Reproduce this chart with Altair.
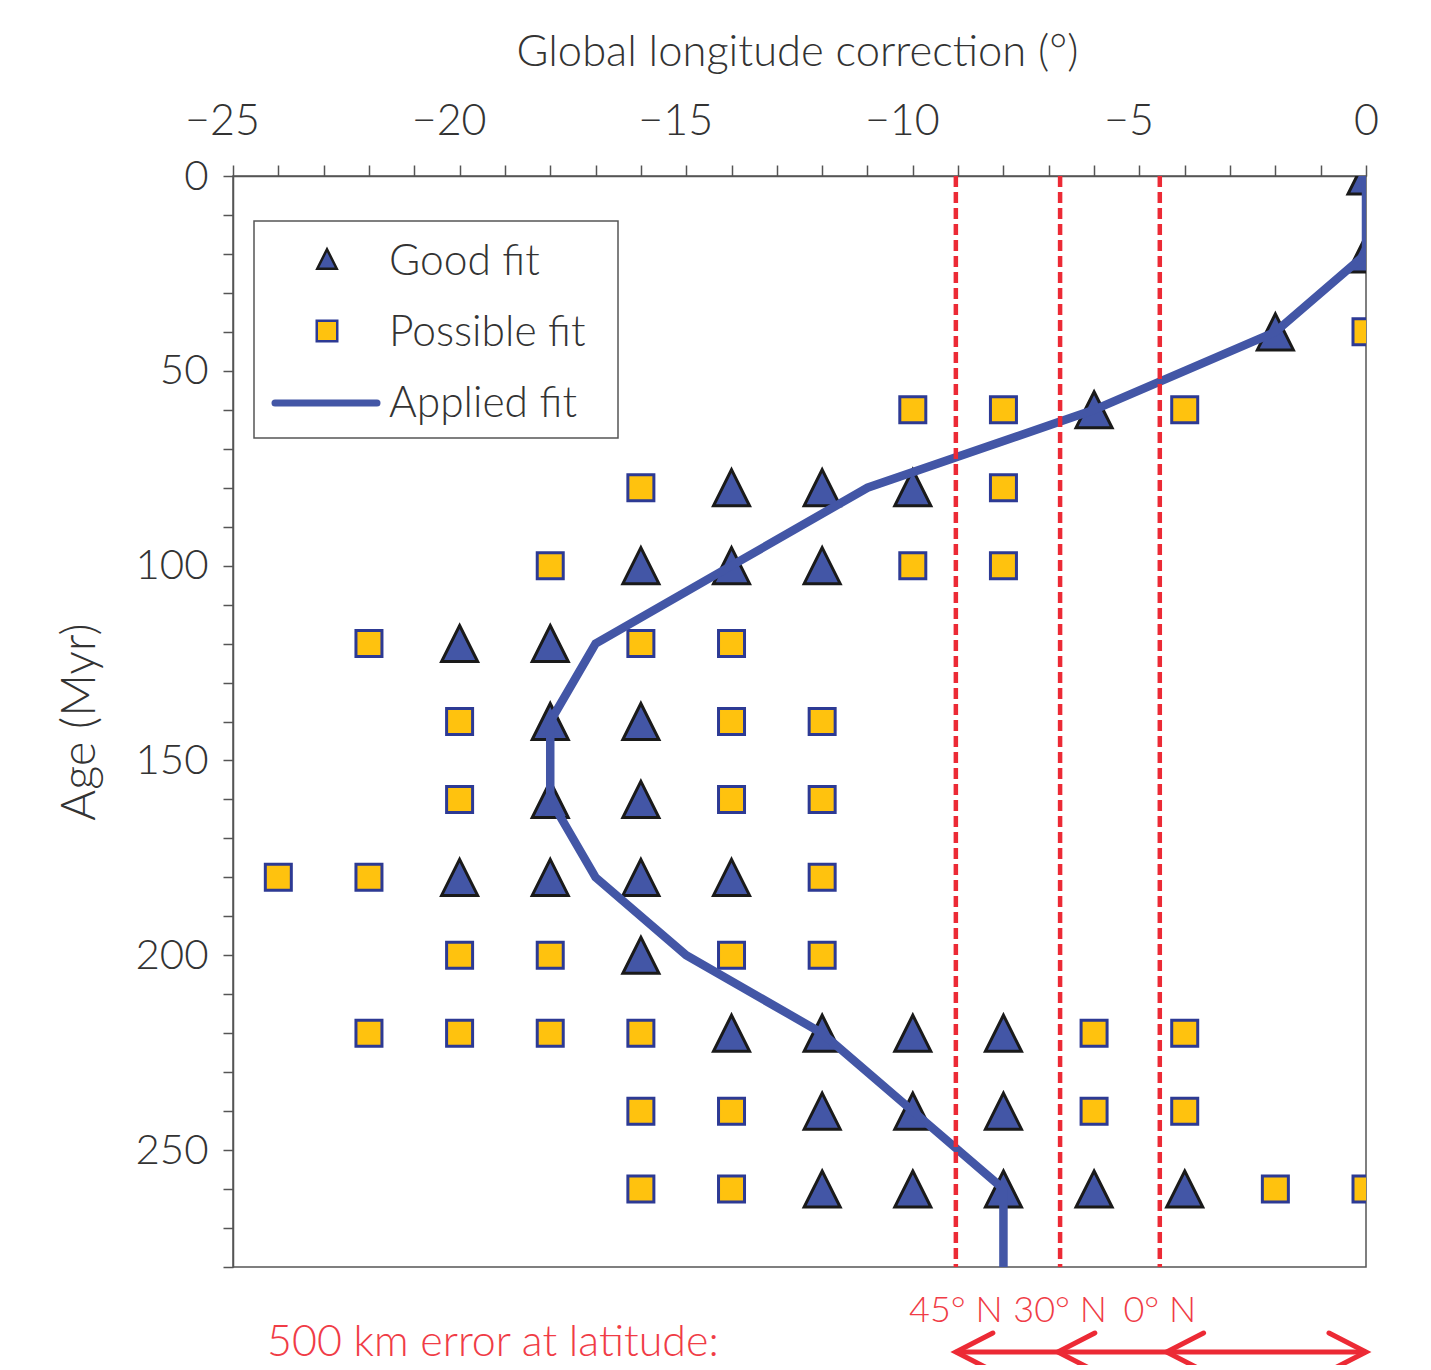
import altair as alt
import pandas as pd

# ---------------- data ----------------
ages = [0, 20, 40, 60, 80, 100, 120, 140, 160, 180, 200, 220, 240, 260]
good_fit_lons = [
    [0], [0], [-2], [-6],
    [-14, -12, -10],
    [-16, -14, -12],
    [-20, -18],
    [-18, -16],
    [-18, -16],
    [-20, -18, -16, -14],
    [-16],
    [-14, -12, -10, -8],
    [-12, -10, -8],
    [-12, -10, -8, -6, -4],
]
possible_fit_lons = [
    [], [], [0],
    [-10, -8, -4],
    [-16, -8],
    [-18, -10, -8],
    [-22, -16, -14],
    [-20, -14, -12],
    [-20, -14, -12],
    [-24, -22, -12],
    [-20, -18, -14, -12],
    [-22, -20, -18, -16, -6, -4],
    [-16, -14, -6, -4],
    [-16, -14, -2, 0],
]
applied_age = [0, 20, 40, 60, 80, 100, 120, 140, 160, 180, 200, 220, 240, 260, 280]
applied_lon = [0, 0, -2, -6, -11, -14, -17, -18, -18, -17, -15, -12, -10, -8, -8]

lat_labels = ["45° N", "30° N", "0° N"]
lat_lons = [-9.05, -6.75, -4.55]
arrow_tips = [-9.05, -6.8, -4.4]
arrow_end = 0

legend_labels = ["Good fit", "Possible fit", "Applied fit"]
bottom_note = "500 km error at latitude:"

# ---------------- tables ----------------
good_df = pd.DataFrame([{"lon": l, "age": a} for a, ls in zip(ages, good_fit_lons) for l in ls])
poss_df = pd.DataFrame([{"lon": l, "age": a} for a, ls in zip(ages, possible_fit_lons) for l in ls])
fit_df = pd.DataFrame({"lon": applied_lon, "age": applied_age, "idx": list(range(len(applied_age)))})
lat_df = pd.DataFrame({"lon": lat_lons, "label": lat_labels})
tips_df = pd.DataFrame({"lon": arrow_tips})
end_df = pd.DataFrame({"lon": [arrow_end]})
shaft_df = pd.DataFrame({"lon": [arrow_tips[0]], "lon2": [arrow_end]})
one = pd.DataFrame({"k": [0]})

# ---------------- style ----------------
FONT = "Lato"
FW = 300
TXT = "#333333"
AX = "#555555"
RED = "#ec2a35"
RED_TXT = "#f03c46"
BLUE = "#4356a6"
YEL = "#ffc20e"
SQ_STROKE = "#2d3a94"
TRI = "M0,-1L1,1L-1,1Z"
LEFT_HEAD = "M1.85,-0.95L0,0L1.85,0.95"
RIGHT_HEAD = "M-1.85,-0.95L0,0L-1.85,0.95"

W, H = 1133, 1091

xs = alt.Scale(domain=[-25, 0], nice=False, zero=False)
ys = alt.Scale(domain=[0, 280], nice=False, zero=False, reverse=True)

x_axis = alt.Axis(
    orient="top", title="Global longitude correction (°)",
    values=list(range(-25, 1)),
    labelExpr="datum.value % 5 == 0 ? datum.label : ''",
    labelOffset={"condition": {"test": "datum.value < 0", "value": -11}, "value": 0},
    labelFont=FONT, labelFontSize=43, labelFontWeight=FW, labelColor=TXT, labelPadding=31,
    labelBaseline="alphabetic", labelFlush=False, labelOverlap=False,
    tickSize=11, tickColor=AX, tickWidth=1.5, domainColor=AX, domainWidth=1.5,
    grid=False, titleFont=FONT, titleFontSize=43.5, titleColor=TXT,
    titleFontWeight=FW, titleX=564, titleY=-111,
    titleBaseline="alphabetic", titleAlign="center",
)
y_axis = alt.Axis(
    orient="left", title="Age (Myr)",
    values=list(range(0, 281, 10)),
    labelExpr="datum.value % 50 == 0 ? datum.label : ''",
    labelFont=FONT, labelFontSize=42, labelFontWeight=FW, labelColor=TXT, labelPadding=15,
    labelOverlap=False, labelFlush=False,
    tickSize=10, tickColor=AX, tickWidth=1.5, domainColor=AX, domainWidth=1.5,
    grid=False, titleFont=FONT, titleFontSize=47, titleColor=TXT,
    titleFontWeight=FW, titleX=-153, titleY=545.5, titleAngle=270,
    titleAlign="center", titleBaseline="middle",
)
X = alt.X("lon:Q", scale=xs, axis=x_axis)
Y = alt.Y("age:Q", scale=ys, axis=y_axis)

squares = alt.Chart(poss_df).mark_point(
    shape="square", filled=True, fill=YEL, stroke=SQ_STROKE, strokeWidth=3,
    size=676, opacity=1, clip=True,
).encode(x=X, y=Y)

triangles = alt.Chart(good_df).mark_point(
    shape=TRI, filled=True, fill=BLUE, stroke="#1a1a1a", strokeWidth=3,
    size=1300, opacity=1, clip=True,
).encode(x=X, y=Y)

fit_line = alt.Chart(fit_df).mark_line(
    color=BLUE, strokeWidth=8.5, clip=True,
).encode(x=X, y=Y, order=alt.Order("idx:Q"))

red_lines = alt.Chart(lat_df).mark_rule(
    color=RED, strokeWidth=4.5, strokeDash=[11, 5],
).encode(x=X)

# legend (drawn by hand)
leg_box = alt.Chart(one).mark_rect(fill="white", stroke=AX, strokeWidth=1.5).encode(
    x=alt.value(21), x2=alt.value(385), y=alt.value(45), y2=alt.value(262))
leg_tri = alt.Chart(one).mark_point(
    shape=TRI, filled=True, fill=BLUE, stroke="#1a1a1a", strokeWidth=2.5, size=380, opacity=1,
).encode(x=alt.value(94), y=alt.value(83))
leg_sq = alt.Chart(one).mark_point(
    shape="square", filled=True, fill=YEL, stroke=SQ_STROKE, strokeWidth=2.5, size=420, opacity=1,
).encode(x=alt.value(94), y=alt.value(155))
leg_line = alt.Chart(one).mark_rule(color=BLUE, strokeWidth=7, strokeCap="round").encode(
    x=alt.value(42), x2=alt.value(144), y=alt.value(227))
leg_texts = [
    alt.Chart(one).mark_text(align="left", baseline="alphabetic", font=FONT, fontSize=42.5,
                             fontWeight=FW, color=TXT, text=t).encode(x=alt.value(156), y=alt.value(yy))
    for t, yy in zip(legend_labels, [99, 170, 241])
]

# bottom annotation
lat_text = alt.Chart(lat_df).mark_text(
    align="center", baseline="alphabetic", font=FONT, fontSize=36, fontWeight=FW, color=RED_TXT,
).encode(x=X, y=alt.value(1146), text="label:N")
note = alt.Chart(one).mark_text(
    align="left", baseline="alphabetic", font=FONT, fontSize=43, fontWeight=FW, color=RED_TXT,
    text=bottom_note,
).encode(x=alt.value(34), y=alt.value(1180))
shaft = alt.Chart(shaft_df).mark_rule(color=RED, strokeWidth=5).encode(
    x=X, x2="lon2:Q", y=alt.value(1176))
left_heads = alt.Chart(tips_df).mark_point(
    shape=LEFT_HEAD, filled=False, stroke=RED, strokeWidth=5, size=1600, opacity=1,
    strokeCap="round",
).encode(x=X, y=alt.value(1176))
right_head = alt.Chart(end_df).mark_point(
    shape=RIGHT_HEAD, filled=False, stroke=RED, strokeWidth=5, size=1600, opacity=1,
    strokeCap="round",
).encode(x=X, y=alt.value(1176))

chart = alt.layer(
    squares, triangles, fit_line, red_lines,
    leg_box, leg_tri, leg_sq, leg_line, *leg_texts,
    lat_text, note, shaft, left_heads, right_head,
).properties(
    width=W, height=H,
    autosize=alt.AutoSizeParams(type="none"),
    padding={"left": 225, "top": 168, "right": 57, "bottom": 98},
).configure_view(stroke=AX, strokeWidth=1.5)

chart.save("out.html", embed_options={"renderer": "svg", "actions": False})
